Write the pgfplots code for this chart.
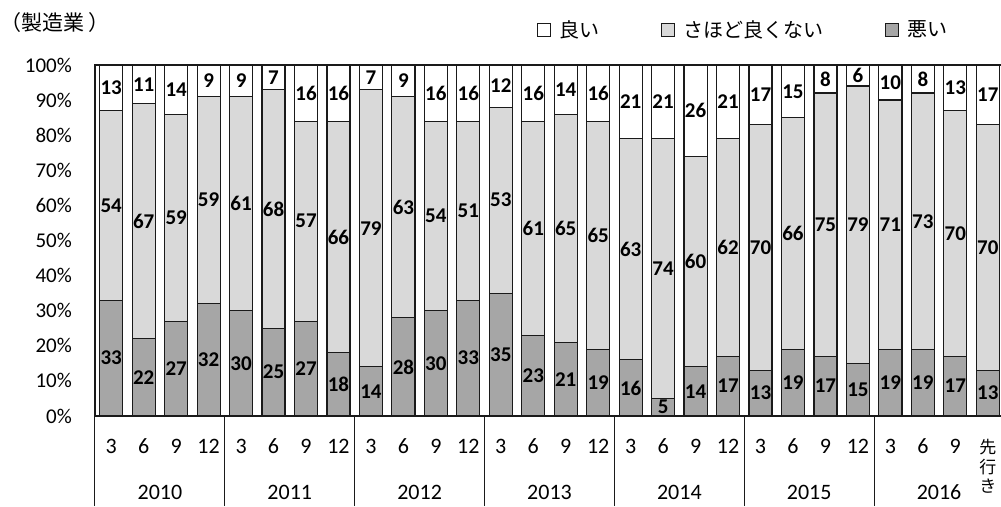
\documentclass[border=0pt]{standalone}
\usepackage{pgfplots}
\pgfplotsset{compat=1.18}
\usepackage{pgfplotstable}
\usepackage{fontspec}
\setmainfont{Carlito}
\newfontfamily\jp{Noto Sans CJK JP}
\definecolor{lgray}{HTML}{D9D9D9}
\definecolor{dgray}{HTML}{A6A6A6}
\definecolor{edge}{HTML}{1A1A1A}

\pgfplotstableread{
x bad mid good
0 33 54 13
1 22 67 11
2 27 59 14
3 32 59 9
4 30 61 9
5 25 68 7
6 27 57 16
7 18 66 16
8 14 79 7
9 28 63 9
10 30 54 16
11 33 51 16
12 35 53 12
13 23 61 16
14 21 65 14
15 19 65 16
16 16 63 21
17 5 74 21
18 14 60 26
19 17 62 21
20 13 70 17
21 19 66 15
22 17 75 8
23 15 79 6
24 19 71 10
25 19 73 8
26 17 70 13
27 13 70 17
}\datatable
\pgfplotstablecreatecol[create col/expr={\thisrow{bad}/2}]{cbad}\datatable
\pgfplotstablecreatecol[create col/expr={\thisrow{bad}+\thisrow{mid}/2}]{cmid}\datatable
\pgfplotstablecreatecol[create col/expr={\thisrow{bad}+\thisrow{mid}+\thisrow{good}/2}]{cgood}\datatable

\pgfplotsset{
  commonaxis/.style={
    at={(95pt,90pt)}, anchor=south west,
    scale only axis, width=909pt, height=351pt,
    xmin=-0.5, xmax=27.5, ymin=0, ymax=100,
    clip=false,
  }
}

\begin{document}
\begin{tikzpicture}
\useasboundingbox (0,0) rectangle (1001pt,506pt);
\node[anchor=west, inner sep=0pt, font=\jp\fontsize{21}{21}\selectfont] at (0pt,483pt) {（製造業\hspace{4pt}）};
\begin{axis}[
  commonaxis,
  ybar stacked, bar width=0.71,
  axis line style={edge, line width=1.2pt},
  ytick={0,10,...,100},
  yticklabels={0\%,10\%,20\%,30\%,40\%,50\%,60\%,70\%,80\%,90\%,100\%},
  yticklabel style={anchor=east, inner sep=0pt, xshift=-23pt, font=\fontsize{21}{21}\selectfont},
  ytick style={draw=none},
  xtick={0,...,27},
  xticklabels={3,6,9,12,3,6,9,12,3,6,9,12,3,6,9,12,3,6,9,12,3,6,9,12,3,6,9,{\jp\fontsize{17}{18}\selectfont\begin{tabular}[t]{@{}c@{}}先\\行\\き\end{tabular}}},
  xticklabel style={anchor=base, inner sep=0pt, yshift=-37.5pt, font=\fontsize{22}{22}\selectfont},
  xtick style={draw=none},
  every axis plot/.append style={draw=edge, line width=1.2pt},
  legend columns=3,
  reverse legend,
  legend image code/.code={\draw[#1,/tikz/.cd,line width=1pt] (0pt,-6.5pt) rectangle (13pt,6.5pt);},
  legend style={at={(0.4862,1.1011)}, anchor=west, draw=none, fill=none, inner sep=0pt,
    font=\jp\fontsize{20}{20}\selectfont,
    /tikz/every odd column/.append style={column sep=6pt},
    /tikz/every even column/.append style={column sep=60pt}},
]
\addplot[fill=dgray] table[x=x,y=bad] {\datatable};
\addlegendentry{悪い}
\addplot[fill=lgray] table[x=x,y=mid] {\datatable};
\addlegendentry{さほど良くない}
\addplot[fill=white] table[x=x,y=good] {\datatable};
\addlegendentry{良い}
\draw[edge, line width=1pt] (axis cs:-0.5,0) -- ++(0pt,-90pt);
\draw[edge, line width=1pt] (axis cs:3.5,0) -- ++(0pt,-90pt);
\draw[edge, line width=1pt] (axis cs:7.5,0) -- ++(0pt,-90pt);
\draw[edge, line width=1pt] (axis cs:11.5,0) -- ++(0pt,-90pt);
\draw[edge, line width=1pt] (axis cs:15.5,0) -- ++(0pt,-90pt);
\draw[edge, line width=1pt] (axis cs:19.5,0) -- ++(0pt,-90pt);
\draw[edge, line width=1pt] (axis cs:23.5,0) -- ++(0pt,-90pt);
\node[font=\fontsize{22}{22}\selectfont] at (axis cs:1.5,0) [yshift=-76pt] {2010};
\node[font=\fontsize{22}{22}\selectfont] at (axis cs:5.5,0) [yshift=-76pt] {2011};
\node[font=\fontsize{22}{22}\selectfont] at (axis cs:9.5,0) [yshift=-76pt] {2012};
\node[font=\fontsize{22}{22}\selectfont] at (axis cs:13.5,0) [yshift=-76pt] {2013};
\node[font=\fontsize{22}{22}\selectfont] at (axis cs:17.5,0) [yshift=-76pt] {2014};
\node[font=\fontsize{22}{22}\selectfont] at (axis cs:21.5,0) [yshift=-76pt] {2015};
\node[font=\fontsize{22}{22}\selectfont] at (axis cs:25.5,0) [yshift=-76pt] {2016};
\end{axis}
\begin{axis}[
  commonaxis,
  hide axis,
  point meta=explicit symbolic,
  nodes near coords,
  every node near coord/.append style={anchor=center, inner sep=0pt, font=\fontsize{21}{21}\selectfont\bfseries, text=black},
]
\addplot[draw=none, mark=none] table[x=x,y=cbad,meta=bad] {\datatable};
\addplot[draw=none, mark=none] table[x=x,y=cmid,meta=mid] {\datatable};
\addplot[draw=none, mark=none] table[x=x,y=cgood,meta=good] {\datatable};
\end{axis}
\end{tikzpicture}
\end{document}
